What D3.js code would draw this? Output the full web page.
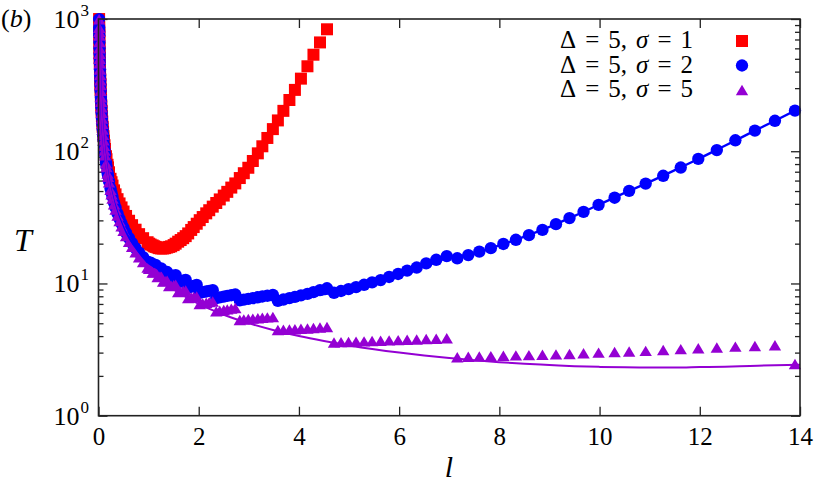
<!DOCTYPE html>
<html><head><meta charset="utf-8">
<script src="https://cdn.jsdelivr.net/npm/d3@7"></script>
<style>body{margin:0;background:#fff} svg{display:block}
svg text{font-family:"Liberation Serif","Times New Roman","Tinos","DejaVu Serif",serif;}
</style>
</head><body><svg id="c" width="814" height="487"></svg>
<script>
// ---- data ----
const lDense = [0.012,0.014,0.015,0.016,0.018,0.020,0.022,0.024,0.026,0.029,
  0.032,0.035,0.038,0.042,0.047,0.051,0.056,0.062,0.068,0.075,
  0.083,0.091,0.10,0.11,0.12,0.13,0.15,0.16,0.18,0.19,
  0.21,0.24,0.26,0.28,0.31,0.34,0.38,0.42,0.46,0.50,
  0.55,0.61,0.67,0.74,0.81,0.89];
const lFine = [0.98,1.01,1.04,1.08,1.11,1.14,1.18,1.21,1.25,1.29,
  1.33,1.37,1.41,1.45,1.50,1.54,1.59,1.64,1.69,1.74,
  1.79,1.85,1.90,1.96,2.02,2.08,2.15,2.21,2.28,2.35,
  2.42,2.50,2.57,2.65,2.73,2.82,2.90,2.99,3.08,3.18,
  3.27,3.37,3.48,3.58,3.69,3.81,3.92,4.04,4.17,4.29,
  4.42,4.56,4.70,4.84,4.99,5.14,5.30,5.46,5.63,5.80,
  5.98,6.16,6.35,6.54,6.74,6.95,7.16,7.38,7.60,7.83,
  8.08,8.33,8.59,8.86,9.13,9.40,9.68,9.98,10.30,10.59,
  10.92,11.27,11.62,11.97,12.34,12.71,13.10,13.50,13.90];

// sigma = 1 (red squares)
const tauS1Dense = [999,867,809,759,675,607,552,507,469,421,
  382,350,323,293,262,243,222,202,184,168,
  153,141,130,120,111,104,91.7,87,79,75.5,
  69.3,61.9,58.3,55.0,50.6,47.2,43.4,40.3,37.6,35.0,
  32.4,29.8,27.6,25.5,23.6,22.0];
const tauS1Fine = [20.5,20.0,19.7,19.4,19.1,18.9,18.7,18.5,18.4,18.4,
  18.5,18.7,18.9,19.1,19.5,20.0,20.7,21.3,22.0,22.8,
  23.9,25.4,26.7,28.3,30.1,31.8,33.9,35.8,38.1,40.6,
  43.2,46.2,49.3,53.1,57.1,62.7,68.2,75.0,84.4,96.4,
  109,126,147,171,202,244,291,354,439,537,
  665,836];

// sigma = 2 (blue circles)
const tauS2Dense = [998,859,802,752,669,602,547,502,464,416,
  377,345,318,288,257,237,216,196,178,162,
  147,134,122,111,102,94.5,82.2,77.2,68.9,65.4,
  59.3,52.2,48.4,45.1,40.9,37.5,33.8,30.8,28.3,26.3,
  24.1,22.0,20.2,18.5,17.1,15.8];
const tauS2Fine = [14.6,14.2,14.35,13.5,13.65,13.8,12.7,12.85,13.0,11.9,
  12.05,12.2,11.1,11.25,11.4,11.55,10.2,10.35,10.5,10.65,
  9.3,9.45,9.6,9.75,8.5,8.6,8.7,8.8,8.9,7.75,
  7.85,7.95,8.05,8.15,8.25,7.45,7.55,7.65,7.75,7.86,
  7.97,8.08,8.2,7.40,7.56,7.74,7.92,8.12,8.35,8.6,
  8.9,9.2,8.5,8.77,9.06,9.38,9.77,10.2,10.6,11.2,
  11.8,12.5,13.2,14.2,15.1,16.1,15.5,16.4,17.4,18.5,
  19.9,21.4,23.2,25.4,28.1,31.2,34.8,39.3,44.5,50.2,
  56.9,65.2,75.3,87.5,102,121,143,170,203];

// sigma = 5 (purple triangles)
const tauS5Dense = [995,858,801,751,668,601,546,501,463,415,
  376,344,317,287,256,236,215,195,177,161,
  146,133,121,110,101,93.3,81,76,67.7,64.2,
  58.1,51,47.2,43.9,39.7,36.3,32.6,29.6,27.1,25.0,
  22.8,20.7,18.9,17.2,15.8,14.5];
const tauS5Fine = [13.2,12.9,12.96,12.1,12.17,12.24,11.2,11.27,11.35,10.35,
  10.42,10.5,9.55,9.62,9.7,9.77,8.6,8.68,8.76,8.84,
  7.75,7.83,7.90,7.98,7.0,7.07,7.15,7.22,7.30,6.15,
  6.22,6.30,6.37,6.45,6.52,5.30,5.34,5.38,5.42,5.46,
  5.50,5.54,5.58,4.45,4.47,4.49,4.51,4.54,4.57,4.60,
  4.64,4.68,3.58,3.60,3.61,3.63,3.65,3.67,3.69,3.71,
  3.73,3.75,3.77,3.80,3.82,3.85,2.77,2.79,2.80,2.82,
  2.84,2.86,2.87,2.89,2.91,2.93,2.97,3.00,3.03,3.06,
  3.09,3.14,3.19,3.24,3.28,3.33,3.37,3.41,2.46];

// theory curves
const lTheory = [0.012,0.02,0.03,0.05,0.08,0.12,0.2,0.3,0.5,0.75,1.0,1.25,1.5,2.0,2.5,3.0,3.5,4.0,4.5,5.0,
  5.5,6.0,6.5,7.0,7.5,8.0,8.5,9.0,9.5,10.0,10.5,11.0,11.5,12.0,12.5,13.0,13.5,14.0];
const tauS2Theory = [1000,602,402,242,152,102,62,42,26.3,18.6,14.3,12.6,11.2,9.0,7.95,7.6,7.5,7.8,8.3,9.0,
  10.2,11.8,13.9,15.6,16.9,19.4,22.6,26.8,32.4,39.6,48.4,58.7,71.9,88.5,110,137,170,212];
const tauS5Theory = [1000,601,401,241,151,101,61,41,25,17,13,10.6,9.0,7.0,5.8,5.0,4.43,4.0,3.67,3.4,
  3.18,3.0,2.85,2.73,2.63,2.54,2.47,2.42,2.37,2.34,2.32,2.31,2.31,2.33,2.35,2.38,2.41,2.43];

const xTicks = [0,2,4,6,8,10,12,14];
const yDecades = [1,10,100,1000];
const yDecadeExp = ["0","1","2","3"];
const deltaValue = 5;
const sigmaValues = [1,2,5];
const seriesColors = ["#ff0000","#0000ff","#9400d3"];

// ---- layout ----
const L = 98.5, R = 800, T = 19, B = 415.7;
const svg = d3.select("#c");
const x = d3.scaleLinear().domain([0,14]).range([L,R]);
const y = d3.scaleLog().domain([1,1000]).range([B,T]);

function zip(ls, ts){ return ts.map((t,i)=>({l:ls[i], t:t})).filter(d=>d.t<=1000 && d.t>=1); }
const s1 = zip(lDense.concat(lFine), tauS1Dense.concat(tauS1Fine));
const s2 = zip(lDense.concat(lFine), tauS2Dense.concat(tauS2Fine));
const s5 = zip(lDense.concat(lFine), tauS5Dense.concat(tauS5Fine));
const th2 = zip(lTheory, tauS2Theory);
const th5 = zip(lTheory, tauS5Theory);

svg.append("defs").append("clipPath").attr("id","plotclip")
  .append("rect").attr("x",L).attr("y",T).attr("width",R-L).attr("height",B-T);

const tri = {draw(ctx, size){ const w=6.2, h=5.2; ctx.moveTo(-w,h); ctx.lineTo(w,h); ctx.lineTo(0,-h); ctx.closePath(); }};
const symSquare = d3.symbol().type(d3.symbolSquare).size(144);
const symCircle = d3.symbol().type(d3.symbolCircle).size(120);
const symTri = d3.symbol().type(tri);
const symbols = [symSquare, symCircle, symTri];

// ---- axes ----
const minors = [];
yDecades.slice(0,3).forEach(d=>{ for(let k=2;k<=9;k++) minors.push(d*k); });

function styleAxis(g){ g.select(".domain").remove(); g.selectAll(".tick line").attr("stroke","#222").attr("stroke-width",1.3); }

svg.append("g").attr("transform",`translate(0,${B})`)
  .call(d3.axisBottom(x).tickValues(xTicks).tickSizeInner(-9).tickSizeOuter(0).tickPadding(12).tickFormat(d3.format("d")))
  .call(styleAxis)
  .call(g=>g.attr("font-family",null).selectAll("text").attr("font-size",25).attr("fill","#000"));
svg.append("g").attr("transform",`translate(0,${T})`)
  .call(d3.axisTop(x).tickValues(xTicks).tickSizeInner(-9).tickSizeOuter(0).tickFormat(""))
  .call(styleAxis);
svg.append("g").attr("transform",`translate(${L},0)`)
  .call(d3.axisLeft(y).tickValues(yDecades).tickSizeInner(-9).tickSizeOuter(0).tickFormat(""))
  .call(styleAxis);
svg.append("g").attr("transform",`translate(${L},0)`)
  .call(d3.axisLeft(y).tickValues(minors).tickSizeInner(-5).tickSizeOuter(0).tickFormat(""))
  .call(styleAxis);
svg.append("g").attr("transform",`translate(${R},0)`)
  .call(d3.axisRight(y).tickValues(yDecades).tickSizeInner(-9).tickSizeOuter(0).tickFormat(""))
  .call(styleAxis);
svg.append("g").attr("transform",`translate(${R},0)`)
  .call(d3.axisRight(y).tickValues(minors).tickSizeInner(-5).tickSizeOuter(0).tickFormat(""))
  .call(styleAxis);

// y labels 10^n (base and exponent as separate texts)
const yl = svg.append("g").attr("fill","#000");
yDecades.forEach((d,i)=>{
  const x0 = L - 19;
  yl.append("text").attr("x",x0).attr("y",y(d)+9).attr("text-anchor","end").attr("font-size",26).text("10");
  yl.append("text").attr("x",x0+1).attr("y",y(d)-3).attr("text-anchor","start").attr("font-size",17).text(yDecadeExp[i]);
});

// axis titles
svg.append("text").attr("x",449).attr("y",477).attr("text-anchor","middle")
  .attr("font-style","italic").attr("font-size",30).text("l");
svg.append("text").attr("x",23).attr("y",251).attr("text-anchor","middle")
  .attr("font-style","italic").attr("font-size",32).text("T");
const pb = svg.append("text").attr("x",1).attr("y",27).attr("font-size",26);
pb.append("tspan").text("(");
pb.append("tspan").attr("font-style","italic").text("b");
pb.append("tspan").text(")");

// ---- data marks ----
[s1,s2,s5].forEach((s,i)=>{
  svg.append("g").selectAll("path").data(s).join("path")
    .attr("transform",d=>`translate(${x(d.l)},${y(d.t)})`)
    .attr("d",symbols[i]()).attr("fill",seriesColors[i]);
});

const line = d3.line().x(d=>x(d.l)).y(d=>y(d.t)).curve(d3.curveMonotoneX);
const lg = svg.append("g").attr("clip-path","url(#plotclip)");
lg.append("path").datum(th2).attr("d",line).attr("fill","none").attr("stroke",seriesColors[1]).attr("stroke-width",2.4);
lg.append("path").datum(th5).attr("d",line).attr("fill","none").attr("stroke",seriesColors[2]).attr("stroke-width",2);

// frame
svg.append("rect").attr("x",L).attr("y",T).attr("width",R-L).attr("height",B-T)
  .attr("fill","none").attr("stroke","#222").attr("stroke-width",1.6);

// ---- legend (pieces placed side by side, right-aligned at x = 693) ----
const leg = svg.append("g").attr("fill","#000");
sigmaValues.forEach((s,i)=>{
  const yy = 48 + i*24.5;
  const pieces = [
    {t:"Δ", it:false}, {t:"=", it:false}, {t:`${deltaValue},`, it:false},
    {t:"σ", it:true}, {t:"=", it:false}, {t:`${s}`, it:false}
  ];
  const gaps = [9, 9, 9, 9, 9, 0];
  const nodes = pieces.map(p=> leg.append("text").attr("y",yy).attr("font-size",25)
      .attr("font-style", p.it ? "italic" : null).text(p.t));
  const widths = nodes.map(n=> n.node().getComputedTextLength());
  let total = widths.reduce((a,b)=>a+b,0) + gaps.reduce((a,b)=>a+b,0);
  let cx = 693 - total;
  nodes.forEach((n,k)=>{ n.attr("x",cx); cx += widths[k] + gaps[k]; });
  leg.append("path").attr("transform",`translate(742,${yy-7})`).attr("d",symbols[i]()).attr("fill",seriesColors[i]);
});
</script></body></html>
